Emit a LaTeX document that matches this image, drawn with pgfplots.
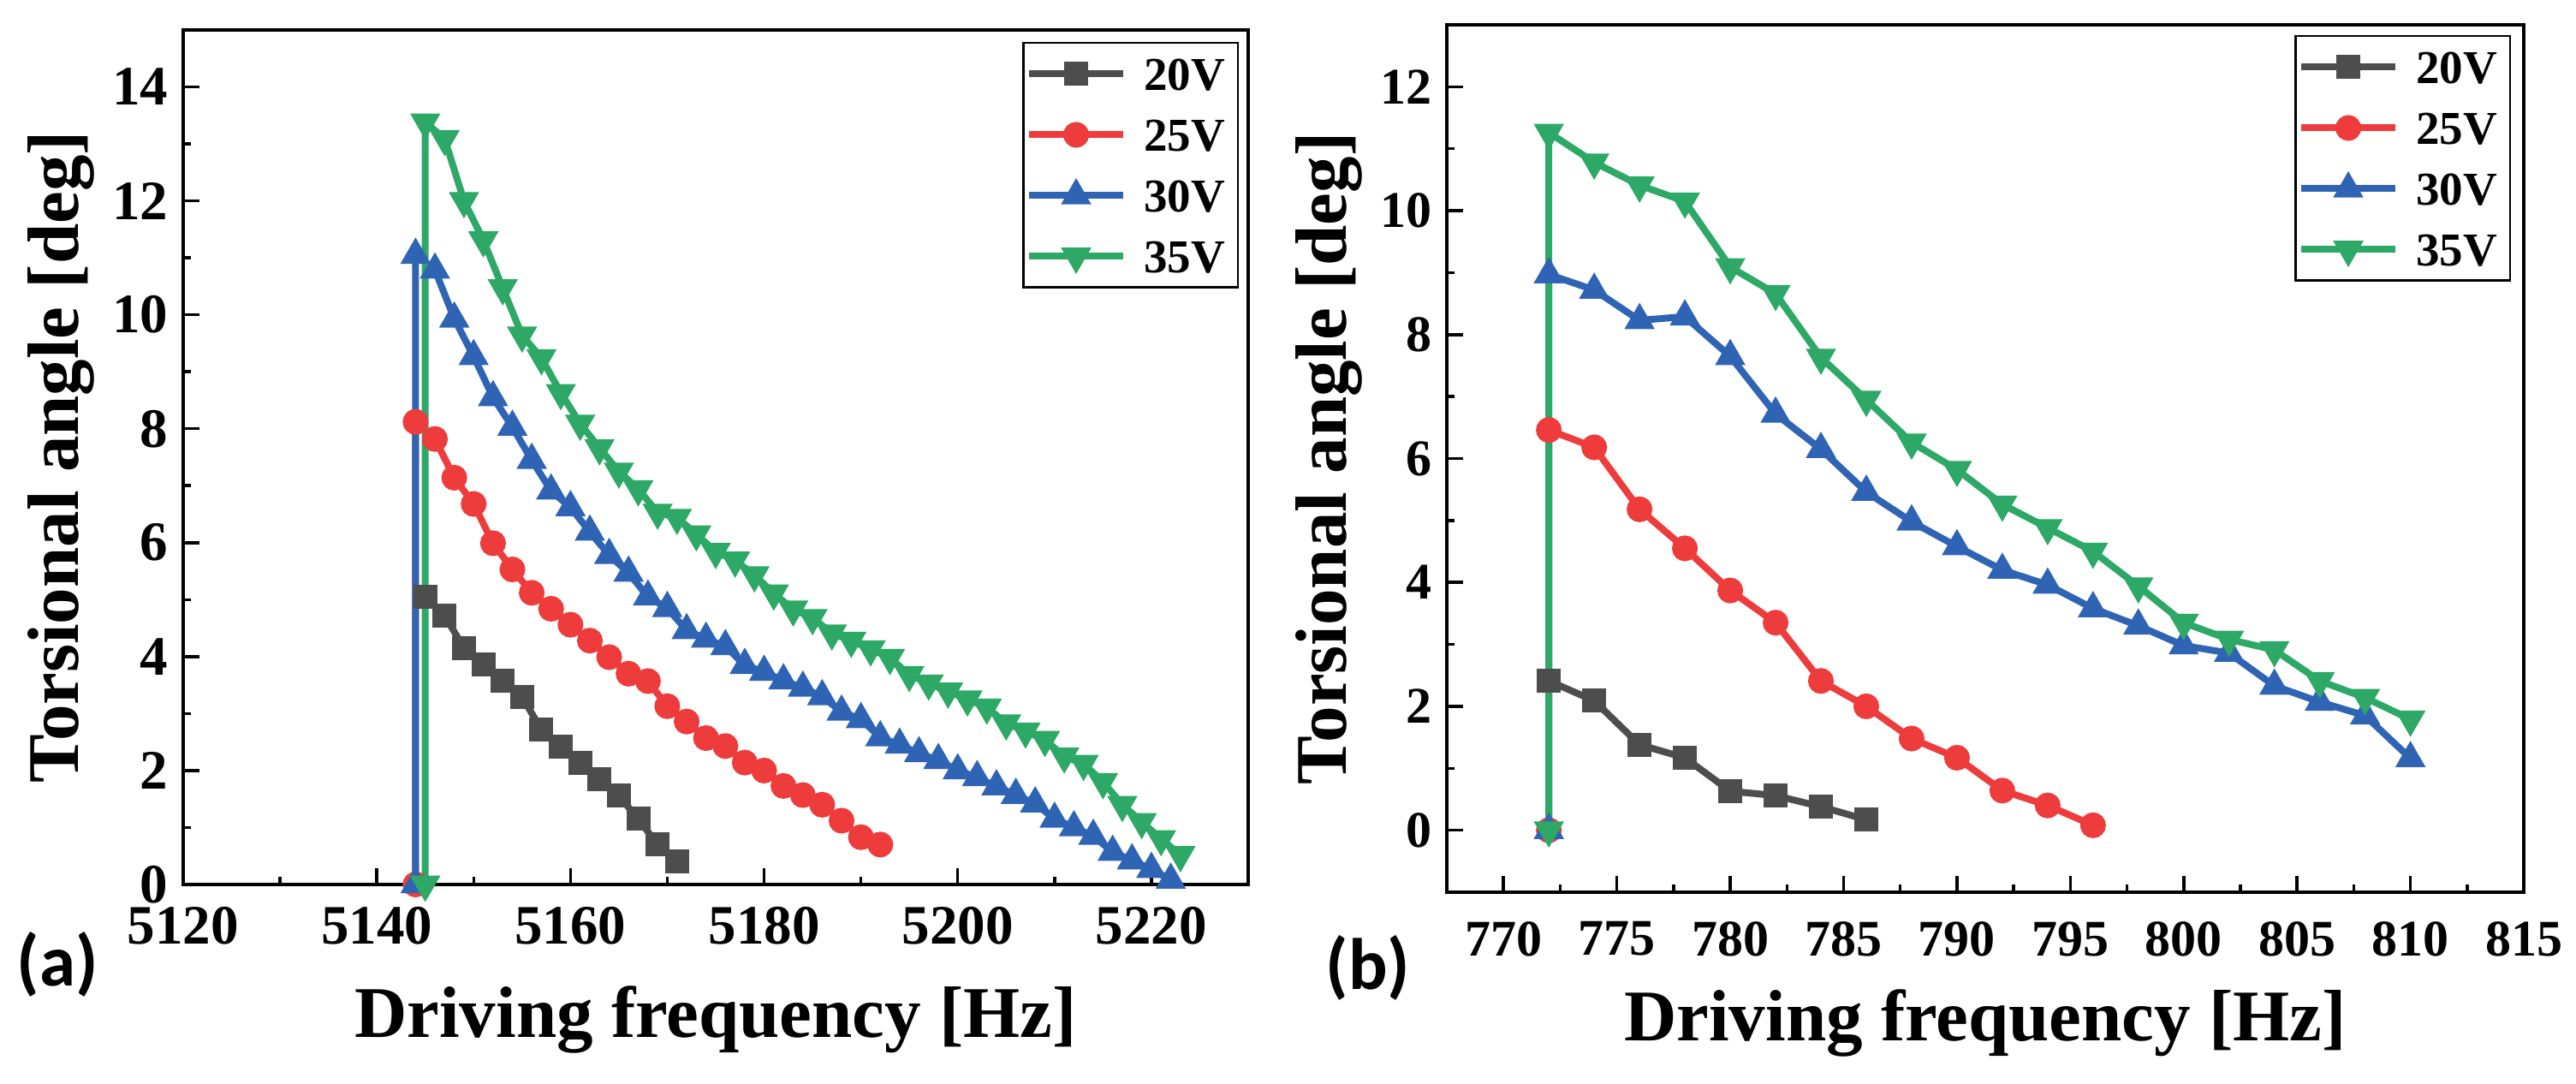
\documentclass[border=0pt]{standalone}
\usepackage{fontspec}
\setmainfont{Liberation Serif}
\newfontfamily\panelfont{Carlito}
\usepackage{pgfplots}
\pgfplotsset{compat=1.18}
\definecolor{c20}{HTML}{4D4D4D}
\definecolor{c25}{HTML}{EE3B3B}
\definecolor{c30}{HTML}{2F64B4}
\definecolor{c35}{HTML}{2DA866}
\pgfplotsset{
  common/.style={
    scale only axis,
    anchor=south west,
    clip=false,
    axis line style={line width=0.8pt},
    every tick/.style={line width=0.7pt, black},
    major tick length=3.8pt,
    minor tick length=1.8pt,
    tick align=inside,
    tick pos=left,
    minor tick num=1,
    /pgf/number format/assume math mode=true,
    /pgf/number format/set thousands separator={},
    label style={font=\fontsize{17}{20}\selectfont\bfseries, inner sep=0pt},
    legend style={at={(rel axis cs:1,1)}, anchor=north east, draw=black, line width=0.5pt,
      font=\fontsize{11}{12}\selectfont\bfseries, inner xsep=0.5pt, inner ysep=1pt, row sep=1.7pt,
      nodes={inner sep=2.5pt, text height=7.5pt, text depth=0pt},
      /tikz/every odd column/.append style={column sep=1.5pt}},
    legend cell align=left,
    legend image code/.code={\draw[mark repeat=2,mark phase=2] plot coordinates {(0pt,0pt) (11pt,0pt) (22pt,0pt)};},
  },
  s20/.style={color=c20, line width=1.6pt, mark=square*, mark size=2pt, mark options={solid}},
  s25/.style={color=c25, line width=1.6pt, mark=*, mark size=2.2pt, mark options={solid}},
  s30/.style={color=c30, line width=1.6pt, mark=triangle*, mark size=2.5pt, mark options={solid}},
  s35/.style={color=c35, line width=1.6pt, mark=triangle*, mark size=2.5pt, mark options={solid, rotate=180}},
}
\begin{document}
\begin{tikzpicture}[x=1pt,y=1pt]
\useasboundingbox (0,0) rectangle (601.8,253.2);
% ---------------- (a) ----------------
\begin{axis}[common,
  at={(42.8pt,46.6pt)}, width=248.8pt, height=199.6pt,
  xmin=5120, xmax=5230, ymin=0, ymax=15,
  xtick={5120,5140,5160,5180,5200,5220},
  ytick={0,2,4,6,8,10,12,14},
  ticklabel style={font=\fontsize{13}{14}\selectfont\bfseries},
  xticklabel shift=1.7pt,
  xlabel={Driving frequency [Hz]},
  ylabel={Torsional angle [deg]},
  xlabel style={at={([yshift=-35.8pt]axis description cs:0.5,0)}, anchor=base},
  ylabel style={at={([xshift=-24.4pt]axis description cs:0,0.5)}, rotate=0, anchor=base},
  legend style={xshift=-2.2pt, yshift=-2.8pt},
]
\addplot[s20] coordinates {(5145,5.05) (5147,4.72) (5149,4.15) (5151,3.86) (5153,3.57) (5155,3.29) (5157,2.72) (5159,2.42) (5161,2.14) (5163,1.85) (5165,1.56) (5167,1.15) (5169,0.70) (5171,0.40)};
\addlegendentry{20V}
\addplot[s25] coordinates {(5144,0) (5144,8.12) (5146,7.82) (5148,7.14) (5150,6.68) (5152,5.99) (5154,5.53) (5156,5.12) (5158,4.84) (5160,4.56) (5162,4.28) (5164,3.99) (5166,3.70) (5168,3.57) (5170,3.13) (5172,2.86) (5174,2.57) (5176,2.43) (5178,2.14) (5180,2.00) (5182,1.73) (5184,1.57) (5186,1.40) (5188,1.12) (5190,0.83) (5192,0.70)};
\addlegendentry{25V}
\addplot[s30] coordinates {(5144,0) (5144,11.05) (5146,10.79) (5148,9.93) (5150,9.27) (5152,8.55) (5154,8.03) (5156,7.45) (5158,6.91) (5160,6.62) (5162,6.19) (5164,5.78) (5166,5.47) (5168,5.05) (5170,4.85) (5172,4.46) (5174,4.31) (5176,4.18) (5178,3.85) (5180,3.73) (5182,3.58) (5184,3.45) (5186,3.30) (5188,3.03) (5190,2.90) (5192,2.58) (5194,2.45) (5196,2.30) (5198,2.18) (5200,2.00) (5202,1.88) (5204,1.72) (5206,1.57) (5208,1.42) (5210,1.15) (5212,1.00) (5214,0.85) (5216,0.57) (5218,0.42) (5220,0.27) (5222,0.08)};
\addlegendentry{30V}
\addplot[s35] coordinates {(5145,0) (5145,13.38) (5147,13.09) (5149,12.00) (5151,11.31) (5153,10.47) (5155,9.64) (5157,9.24) (5159,8.63) (5161,8.09) (5163,7.66) (5165,7.25) (5167,6.94) (5169,6.53) (5171,6.44) (5173,6.15) (5175,5.84) (5177,5.69) (5179,5.43) (5181,5.11) (5183,4.83) (5185,4.68) (5187,4.41) (5189,4.28) (5191,4.13) (5193,3.98) (5195,3.68) (5197,3.53) (5199,3.39) (5201,3.25) (5203,3.11) (5205,2.83) (5207,2.69) (5209,2.54) (5211,2.25) (5213,2.12) (5215,1.80) (5217,1.40) (5219,1.10) (5221,0.80) (5223,0.52)};
\addlegendentry{35V}
\end{axis}
% ---------------- (b) ----------------
\begin{axis}[common,
  at={(338pt,44.8pt)}, width=251.6pt, height=202.6pt,
  xmin=767.5, xmax=815, ymin=-1, ymax=13,
  xtick={770,775,780,785,790,795,800,805,810,815},
  ytick={0,2,4,6,8,10,12},
  ticklabel style={font=\fontsize{12}{13}\selectfont\bfseries},
  xticklabel shift=3.4pt,
  xlabel={Driving frequency [Hz]},
  ylabel={Torsional angle [deg]},
  xlabel style={at={([yshift=-34.8pt]axis description cs:0.5,0)}, anchor=base},
  ylabel style={at={([xshift=-23.6pt]axis description cs:0,0.5)}, rotate=0, anchor=base},
  legend style={xshift=-3pt, yshift=-2.4pt},
]
\addplot[s20] coordinates {(772,2.41) (774,2.09) (776,1.38) (778,1.17) (780,0.63) (782,0.56) (784,0.38) (786,0.17)};
\addlegendentry{20V}
\addplot[s25] coordinates {(772,0) (772,6.46) (774,6.18) (776,5.18) (778,4.55) (780,3.87) (782,3.35) (784,2.41) (786,2.00) (788,1.48) (790,1.17) (792,0.64) (794,0.40) (796,0.08)};
\addlegendentry{25V}
\addplot[s30] coordinates {(772,0) (772,8.97) (774,8.72) (776,8.23) (778,8.29) (780,7.65) (782,6.72) (784,6.15) (786,5.46) (788,4.98) (790,4.58) (792,4.20) (794,3.96) (796,3.58) (798,3.30) (800,2.98) (802,2.86) (804,2.33) (806,2.07) (808,1.85) (810,1.16)};
\addlegendentry{30V}
\addplot[s35] coordinates {(772,0) (772,11.26) (774,10.78) (776,10.41) (778,10.15) (780,9.09) (782,8.66) (784,7.63) (786,6.95) (788,6.26) (790,5.82) (792,5.26) (794,4.88) (796,4.50) (798,3.94) (800,3.35) (802,3.08) (804,2.91) (806,2.41) (808,2.14) (810,1.79)};
\addlegendentry{35V}
\end{axis}
\node[inner sep=0pt, font=\panelfont\bfseries\fontsize{17}{18}\selectfont] at (13.4,28) {(a)};
\node[inner sep=0pt, font=\panelfont\bfseries\fontsize{17}{18}\selectfont] at (319.6,27.2) {(b)};
\end{tikzpicture}
\end{document}
